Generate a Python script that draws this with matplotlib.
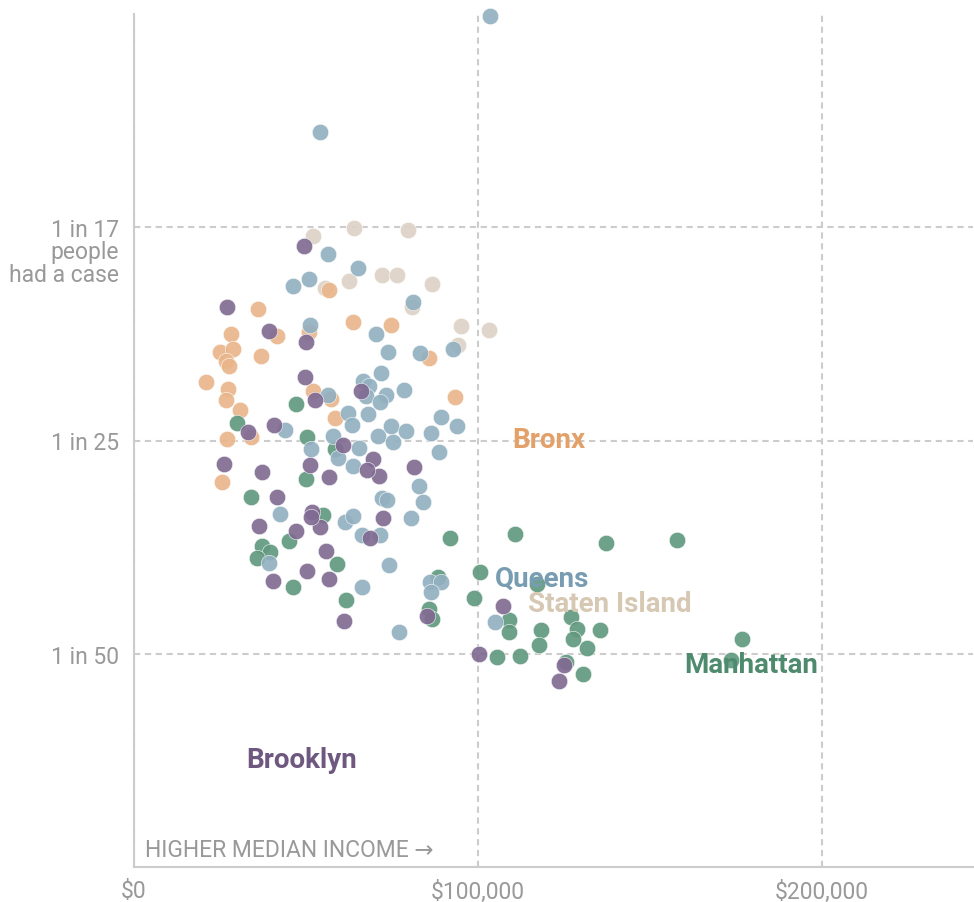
import matplotlib
matplotlib.use('Agg')
import matplotlib.pyplot as plt

# median household income ($ thousands) and cases per 1,000 residents, by neighborhood
bronx_income = [36.0, 28.2, 41.6, 50.9, 25.0, 28.8, 26.7, 27.6, 36.9, 20.9, 27.3, 26.7,
                30.8, 52.0, 57.3, 58.4, 63.7, 56.7, 74.7, 85.8, 93.3, 34.0, 27.0, 25.6]
bronx_rate = [52.3, 50.0, 49.8, 50.2, 48.3, 48.6, 47.5, 47.0, 47.9, 45.5, 44.8, 43.8,
              42.9, 44.6, 43.9, 42.1, 51.1, 54.1, 50.8, 47.7, 44.1, 40.3, 40.1, 36.1]

staten_income = [52.0, 64.0, 79.7, 62.5, 72.1, 76.5, 86.6, 80.8, 95.1, 103.2, 94.2, 55.5]
staten_rate = [59.2, 59.9, 59.7, 55.0, 55.5, 55.5, 54.7, 52.5, 50.7, 50.4, 49.0, 54.3]

manhattan_income = [47.1, 29.9, 50.3, 58.4, 50.0, 34.0, 54.9, 45.1, 37.2, 39.5, 35.8, 59.0,
                    46.2, 61.6, 91.9, 110.8, 137.2, 157.8, 100.6, 117.2, 88.4, 98.8, 85.8,
                    86.6, 109.0, 109.0, 127.0, 128.8, 135.5, 118.3, 127.6, 117.7, 131.7,
                    176.7, 105.5, 112.2, 125.6, 173.5, 130.5]
manhattan_rate = [43.4, 41.6, 40.3, 39.2, 36.4, 34.7, 33.0, 30.6, 30.1, 29.5, 29.0, 28.4,
                  26.3, 25.0, 30.9, 31.2, 30.4, 30.7, 27.7, 26.5, 27.2, 25.2, 24.2,
                  23.3, 23.2, 22.0, 23.4, 22.3, 22.2, 22.2, 21.4, 20.8, 20.5,
                  21.4, 19.7, 19.8, 19.2, 19.4, 18.1]

queens_income = [103.5, 54.1, 56.4, 65.1, 50.9, 46.2, 81.1, 51.2, 70.3, 73.8, 83.1, 92.7,
                 71.8, 66.6, 68.3, 67.4, 78.5, 56.4, 73.3, 71.5, 62.2, 68.0, 89.2, 93.9,
                 74.7, 79.1, 70.9, 75.3, 86.3, 88.7, 63.4, 43.9, 57.8, 51.5, 65.4, 59.3,
                 63.7, 82.8, 84.0, 72.1, 73.5, 80.5, 71.5, 42.4, 61.3, 63.7, 66.3, 74.1,
                 86.0, 89.2, 86.3, 104.9, 77.0, 39.2, 66.3]
queens_rate = [79.8, 68.9, 57.5, 56.2, 55.1, 54.5, 53.0, 50.8, 50.0, 48.3, 48.2, 48.6,
               46.3, 45.6, 45.1, 44.2, 44.7, 44.3, 44.3, 43.6, 42.6, 42.5, 42.2, 41.4,
               41.4, 40.9, 40.4, 39.9, 40.7, 38.9, 41.5, 41.0, 40.4, 39.2, 39.3, 38.4,
               37.6, 35.7, 34.2, 34.6, 34.4, 32.7, 31.1, 33.1, 32.4, 32.9, 31.1, 28.3,
               26.7, 26.7, 25.8, 23.0, 22.0, 28.5, 26.3]

brooklyn_income = [49.4, 27.0, 39.2, 50.0, 49.7, 66.0, 52.6, 69.5, 71.2, 81.4, 72.4, 68.6,
                   107.3, 85.2, 33.1, 40.7, 60.8, 67.7, 26.2, 37.2, 51.2, 56.7, 41.6, 51.7,
                   54.1, 36.3, 47.1, 55.8, 50.3, 56.7, 40.4, 61.0, 100.3, 125.0, 123.5, 51.5]
brooklyn_rate = [58.2, 52.5, 50.3, 49.2, 46.0, 44.6, 43.8, 38.3, 36.7, 37.5, 32.7, 30.9,
                 24.5, 23.5, 40.8, 41.5, 39.6, 37.2, 37.8, 37.0, 37.7, 36.6, 34.7, 33.3,
                 31.9, 32.0, 31.5, 29.6, 27.8, 27.0, 26.8, 23.1, 20.0, 18.9, 17.4, 32.8]

y_ticks = [20, 40, 60]
y_labels = ['1 in 50', '1 in 25', '1 in 17']
x_ticks = [0, 100, 200]
x_labels = ['$0', '$100,000', '$200,000']

fonts = ['Roboto', 'DejaVu Sans']
gray = '#999999'

fig = plt.figure(figsize=(9.74, 9.03), dpi=100)
ax = fig.add_axes([134 / 974, 35 / 903, 839 / 974, 853 / 903])

# draw order matters for the overlaps
series = [
    (staten_income, staten_rate, '#ddd2c6'),
    (bronx_income, bronx_rate, '#e9b68b'),
    (manhattan_income, manhattan_rate, '#62997f'),
    (queens_income, queens_rate, '#93b0c0'),
    (brooklyn_income, brooklyn_rate, '#806b92'),
]
for xs, ys, c in series:
    ax.scatter(xs, ys, s=140, color=c, alpha=0.92, edgecolors='white',
               linewidths=0.4, zorder=3, clip_on=False)

ax.set_xlim(0, 244)
ax.set_ylim(0, 80)

ax.set_xticks(x_ticks)
ax.set_xticklabels(x_labels, family=fonts)
ax.set_yticks(y_ticks)
ax.set_yticklabels(y_labels, family=fonts)
ax.tick_params(axis='both', length=0, labelcolor=gray)
ax.tick_params(axis='y', pad=11, labelsize=16.5)
ax.tick_params(axis='x', pad=9, labelsize=16.5)

ax.grid(True, color='#cccccc', lw=1.5, linestyle=(0, (3, 2.2)))
ax.set_axisbelow(True)

for s in ['top', 'right']:
    ax.spines[s].set_visible(False)
for s in ['left', 'bottom']:
    ax.spines[s].set_color('#cccccc')
    ax.spines[s].set_linewidth(1.5)

# rest of the top y label
trans = ax.get_yaxis_transform()
ax.annotate('people', xy=(0, 60), xycoords=trans, xytext=(-11, -17.3),
            textcoords='offset points', ha='right', va='center',
            fontsize=16.5, color=gray, family=fonts)
ax.annotate('had a case', xy=(0, 60), xycoords=trans, xytext=(-11, -33.8),
            textcoords='offset points', ha='right', va='center',
            fontsize=16.5, color=gray, family=fonts)

ax.text(0.013, 0.021, 'HIGHER MEDIAN INCOME →', transform=ax.transAxes,
        ha='left', va='center', fontsize=16.5, color=gray, family=fonts)

# borough labels
label_kw = dict(fontsize=20, fontweight='bold', family=fonts, ha='left', va='center', zorder=4)
ax.text(109.9, 40.1, 'Bronx', color='#e4a069', **label_kw)
ax.text(104.9, 27.1, 'Queens', color='#789db2', **label_kw)
ax.text(114.5, 24.7, 'Staten Island', color='#d7c8b4', **label_kw)
ax.text(159.9, 19.0, 'Manhattan', color='#4e8a6e', **label_kw)
ax.text(32.6, 10.1, 'Brooklyn', color='#6e5880', **label_kw)

plt.savefig('out.png', dpi=100)
